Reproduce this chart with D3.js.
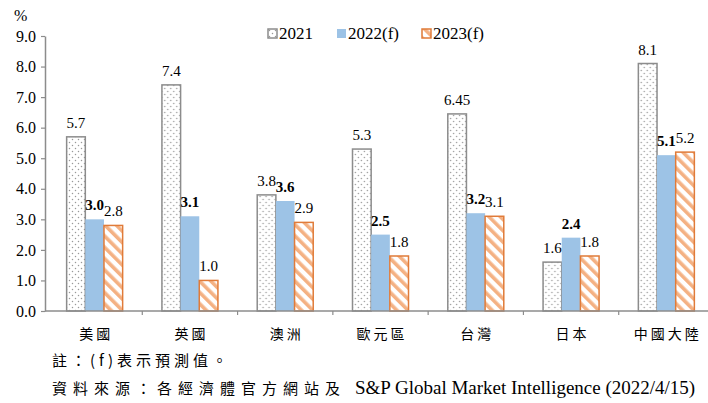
<!DOCTYPE html>
<html>
<head>
<meta charset="utf-8">
<script src="https://cdn.jsdelivr.net/npm/d3@7"></script>
<style>
  body { margin: 0; background: #fff; }
  svg { display: block; font-family: 'Liberation Serif', 'Times New Roman', serif; }
</style>
</head>
<body>
<svg id="chart"></svg>
<script>
var width = 708;
var height = 403;

var categories = ["美國", "英國", "澳洲", "歐元區", "台灣", "日本", "中國大陸"];
var seriesNames = ["2021", "2022(f)", "2023(f)"];
var v2021 = [5.7, 7.4, 3.8, 5.3, 6.45, 1.6, 8.1];
var v2022 = [3.0, 3.1, 3.6, 2.5, 3.2, 2.4, 5.1];
var v2023 = [2.8, 1.0, 2.9, 1.8, 3.1, 1.8, 5.2];
var labels2021 = ["5.7", "7.4", "3.8", "5.3", "6.45", "1.6", "8.1"];
var labels2022 = ["3.0", "3.1", "3.6", "2.5", "3.2", "2.4", "5.1"];
var labels2023 = ["2.8", "1.0", "2.9", "1.8", "3.1", "1.8", "5.2"];
var yTicks = [0, 1, 2, 3, 4, 5, 6, 7, 8, 9];

var serif = "Liberation Serif";
var cjk = "Noto Sans CJK TC";

var svg = d3.select("#chart")
  .attr("width", width)
  .attr("height", height);

var defs = svg.append("defs");

// dotted fill for 2021
var dots = defs.append("pattern")
  .attr("id", "dots")
  .attr("patternUnits", "userSpaceOnUse")
  .attr("width", 6)
  .attr("height", 6);
dots.append("rect").attr("width", 6).attr("height", 6).attr("fill", "#fff");
dots.append("circle").attr("cx", 1.5).attr("cy", 1.5).attr("r", 0.75).attr("fill", "#999");
dots.append("circle").attr("cx", 4.5).attr("cy", 4.5).attr("r", 0.75).attr("fill", "#999");

// diagonal stripes for 2023
var stripes = defs.append("pattern")
  .attr("id", "stripes")
  .attr("patternUnits", "userSpaceOnUse")
  .attr("width", 8)
  .attr("height", 8)
  .attr("patternTransform", "rotate(-45)");
stripes.append("rect").attr("width", 8).attr("height", 8).attr("fill", "#fff");
stripes.append("rect").attr("width", 3.6).attr("height", 8).attr("fill", "#F4B183");

var styles = [
  { fill: "url(#dots)", stroke: "#8c8c8c", sw: 1.5 },
  { fill: "#9DC3E6", stroke: "none", sw: 0 },
  { fill: "url(#stripes)", stroke: "#E07B39", sw: 1.5 }
];

var x0 = d3.scaleBand()
  .domain(categories)
  .range([47, 714]);

var groupW = 56;
var x1 = d3.scaleBand()
  .domain(seriesNames)
  .range([(x0.bandwidth() - groupW) / 2, (x0.bandwidth() + groupW) / 2]);

var y = d3.scaleLinear()
  .domain([0, 9])
  .range([311, 36]);

// y axis
var yAxis = svg.append("g")
  .attr("transform", "translate(45,0)")
  .call(d3.axisLeft(y).tickValues(yTicks).tickFormat(d3.format(".1f")).tickSize(4).tickSizeOuter(0));
yAxis.attr("font-family", serif).attr("font-size", 16);
yAxis.select(".domain").attr("stroke", "#8c8c8c").attr("stroke-width", 1.5);
yAxis.selectAll(".tick line").attr("stroke", "#8c8c8c").attr("stroke-width", 1.2);
yAxis.selectAll(".tick text")
  .attr("x", -9)
  .attr("fill", "#000");

svg.append("text")
  .attr("x", 14)
  .attr("y", 21)
  .attr("font-family", serif)
  .attr("font-size", 16)
  .text("%");

// bars
var data = categories.map(function (c, i) {
  return {
    cat: c,
    vals: [
      { s: 0, v: v2021[i], label: labels2021[i] },
      { s: 1, v: v2022[i], label: labels2022[i] },
      { s: 2, v: v2023[i], label: labels2023[i] }
    ]
  };
});

var groups = svg.append("g").selectAll("g")
  .data(data)
  .join("g")
  .attr("transform", d => `translate(${x0(d.cat)},0)`);

groups.selectAll("rect")
  .data(d => d.vals)
  .join("rect")
  .attr("x", d => x1(seriesNames[d.s]))
  .attr("y", d => y(d.v))
  .attr("width", x1.bandwidth())
  .attr("height", d => y(0) - y(d.v))
  .attr("fill", d => styles[d.s].fill)
  .attr("stroke", d => styles[d.s].stroke)
  .attr("stroke-width", d => styles[d.s].sw);

groups.selectAll("text")
  .data(d => d.vals)
  .join("text")
  .attr("x", d => x1(seriesNames[d.s]) + x1.bandwidth() / 2)
  .attr("y", d => y(d.v) - 9)
  .attr("text-anchor", "middle")
  .attr("font-family", serif)
  .attr("font-size", 15)
  .attr("font-weight", d => d.s == 1 ? "bold" : "normal")
  .text(d => d.label);

// x axis
var xAxis = svg.append("g")
  .attr("transform", "translate(0,311)");
xAxis.append("line")
  .attr("x1", 45).attr("x2", 714)
  .attr("stroke", "#8c8c8c").attr("stroke-width", 1.5);
xAxis.selectAll(".sep")
  .data(categories.slice(1))
  .join("line")
  .attr("class", "sep")
  .attr("x1", d => x0(d)).attr("x2", d => x0(d))
  .attr("y1", 0).attr("y2", 4)
  .attr("stroke", "#8c8c8c").attr("stroke-width", 1.2);
xAxis.selectAll(".cat")
  .data(categories)
  .join("text")
  .attr("class", "cat")
  .attr("x", d => x0(d) + x0.bandwidth() / 2 + 1.5)
  .attr("y", 28)
  .attr("text-anchor", "middle")
  .attr("font-family", cjk)
  .attr("font-size", 14)
  .style("letter-spacing", "3px")
  .text(d => d);

// legend
var legendX = [268, 337, 422];
var legend = svg.append("g").selectAll("g")
  .data(seriesNames)
  .join("g")
  .attr("transform", (d, i) => `translate(${legendX[i]},29)`);
legend.append("rect")
  .attr("width", 9)
  .attr("height", 9)
  .attr("fill", (d, i) => styles[i].fill)
  .attr("stroke", (d, i) => styles[i].stroke)
  .attr("stroke-width", (d, i) => styles[i].sw);
legend.append("text")
  .attr("x", 11)
  .attr("y", 10)
  .attr("font-family", serif)
  .attr("font-size", 17)
  .text(d => d);

// notes
svg.append("text")
  .attr("x", 52)
  .attr("y", 366)
  .attr("font-family", cjk)
  .attr("font-size", 15)
  .style("letter-spacing", "4px")
  .text("註：(f)表示預測值。");

var src = svg.append("text")
  .attr("x", 52)
  .attr("y", 394)
  .attr("font-size", 15);
src.append("tspan")
  .attr("font-family", cjk)
  .style("letter-spacing", "6px")
  .text("資料來源：各經濟體官方網站及");
src.append("tspan")
  .attr("x", 355)
  .attr("font-family", serif)
  .attr("font-size", 19)
  .text("S&P Global Market Intelligence (2022/4/15)");
</script>
</body>
</html>
